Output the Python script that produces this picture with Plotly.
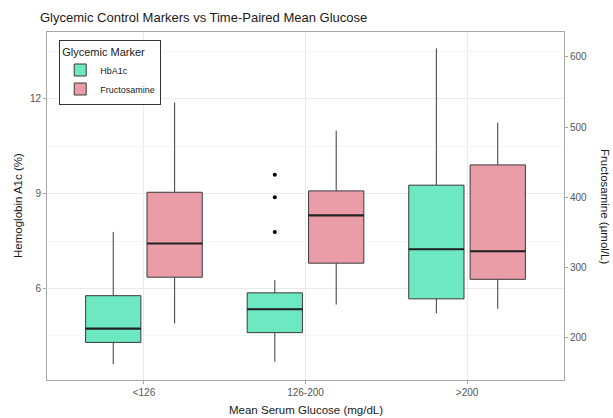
import plotly.graph_objects as go

categories = ["<126", "126-200", ">200"]

# HbA1c (%) box statistics per glucose category
hba1c_lower = [3.60, 3.68, 5.21]
hba1c_q1 = [4.29, 4.60, 5.67]
hba1c_median = [4.73, 5.34, 7.24]
hba1c_q3 = [5.77, 5.86, 9.27]
hba1c_upper = [7.79, 6.26, 13.60]
# outliers (category, value)
outlier_cat = ["126-200", "126-200", "126-200"]
outlier_val = [9.60, 8.89, 7.79]

# Fructosamine (umol/L) box statistics per glucose category
fru_lower = [220, 247, 241]
fru_q1 = [286, 306, 283]
fru_median = [334, 374, 323]
fru_q3 = [407, 409, 446]
fru_upper = [535, 495, 506]

SCALE = 45  # secondary axis: fructosamine = 45 * HbA1c
y_range = [3.10, 14.12]

green = "#6DE8C0"
pink = "#EA9DA7"
edge = "#3a3a3a"
font = "Liberation Sans, Arial, sans-serif"

fig = go.Figure()

fig.add_trace(go.Box(
    name="HbA1c", x=categories,
    q1=hba1c_q1, median=hba1c_median, q3=hba1c_q3,
    lowerfence=hba1c_lower, upperfence=hba1c_upper,
    boxpoints=False, fillcolor=green,
    line=dict(color=edge, width=1), whiskerwidth=0,
    offsetgroup="A", alignmentgroup="g", yaxis="y",
))
fig.add_trace(go.Box(
    name="Fructosamine", x=categories,
    q1=fru_q1, median=fru_median, q3=fru_q3,
    lowerfence=fru_lower, upperfence=fru_upper,
    boxpoints=False, fillcolor=pink,
    line=dict(color=edge, width=1), whiskerwidth=0,
    offsetgroup="B", alignmentgroup="g", yaxis="y2",
))
# thicker median lines (ggplot style)
fig.add_trace(go.Box(
    x=categories, q1=hba1c_median, median=hba1c_median, q3=hba1c_median,
    lowerfence=hba1c_median, upperfence=hba1c_median, boxpoints=False,
    fillcolor="rgba(0,0,0,0)", line=dict(color="#222222", width=2.2), whiskerwidth=0,
    offsetgroup="A", alignmentgroup="g", yaxis="y", showlegend=False, hoverinfo="skip",
))
fig.add_trace(go.Box(
    x=categories, q1=fru_median, median=fru_median, q3=fru_median,
    lowerfence=fru_median, upperfence=fru_median, boxpoints=False,
    fillcolor="rgba(0,0,0,0)", line=dict(color="#222222", width=2.2), whiskerwidth=0,
    offsetgroup="B", alignmentgroup="g", yaxis="y2", showlegend=False, hoverinfo="skip",
))
# outlier points
fig.add_trace(go.Box(
    x=outlier_cat, y=outlier_val, boxpoints="all", jitter=0, pointpos=0,
    fillcolor="rgba(0,0,0,0)", line=dict(color="rgba(0,0,0,0)", width=0), whiskerwidth=0,
    marker=dict(color="black", size=4),
    offsetgroup="A", alignmentgroup="g", yaxis="y", showlegend=False, hoverinfo="skip",
))

grid = "#EBEBEB"
tickc = "#555555"
border = "#A8A8A8"

fig.update_layout(
    template="none",
    width=613, height=418,
    margin=dict(l=47, r=49, t=32, b=38, pad=0),
    paper_bgcolor="white", plot_bgcolor="white",
    font=dict(family=font, color="#1a1a1a"),
    boxmode="group", boxgap=0.24, boxgroupgap=0.1,
    title=dict(text="Glycemic Control Markers vs Time-Paired Mean Glucose",
               x=40 / 613, xanchor="left", xref="container",
               y=1 - 17 / 418, yanchor="middle", yref="container",
               font=dict(size=13, color="#1a1a1a", family=font)),
    xaxis=dict(
        type="category", categoryorder="array", categoryarray=categories,
        range=[-0.6, 2.6], showgrid=True, gridcolor=grid, gridwidth=1,
        showline=True, linecolor=border, linewidth=1, mirror=True,
        ticks="outside", ticklen=3, tickcolor=border, automargin=False,
        tickfont=dict(size=10, color=tickc, family=font), zeroline=False,
    ),
    yaxis=dict(
        range=y_range, tickvals=[6, 9, 12], showgrid=True, gridcolor=grid, gridwidth=1,
        minor=dict(tickvals=[4.5, 7.5, 10.5, 13.5], showgrid=True, gridcolor="#F5F5F5", gridwidth=0.8),
        showline=True, linecolor=border, linewidth=1, mirror=True,
        ticks="outside", ticklen=3, tickcolor=border, automargin=False,
        tickfont=dict(size=10, color=tickc, family=font), zeroline=False,
    ),
    yaxis2=dict(
        overlaying="y", side="right",
        range=[y_range[0] * SCALE, y_range[1] * SCALE],
        tickvals=[200, 300, 400, 500, 600], showgrid=False, zeroline=False,
        ticks="outside", ticklen=3, tickcolor=border, automargin=False,
        tickfont=dict(size=10, color=tickc, family=font),
    ),
    legend=dict(
        x=(59 - 47) / 517, y=(380 - 40) / 348, xanchor="left", yanchor="top",
        bordercolor="#333333", borderwidth=1.2, bgcolor="white",
        title=dict(text="Glycemic Marker", font=dict(size=11, color="#1a1a1a", family=font)),
        font=dict(size=9, color="#1a1a1a", family=font),
        itemwidth=30, tracegroupgap=2,
    ),
    annotations=[
        dict(text="Hemoglobin A1c (%)", xref="paper", yref="paper", x=-(47 - 18) / 517, y=0.5,
             xanchor="center", yanchor="middle", textangle=-90, showarrow=False,
             font=dict(size=11.5, color="#1a1a1a", family=font)),
        dict(text="Fructosamine (µmol/L)", xref="paper", yref="paper", x=(605 - 47) / 517, y=0.5,
             xanchor="center", yanchor="middle", textangle=90, showarrow=False,
             font=dict(size=11.5, color="#1a1a1a", family=font)),
        dict(text="Mean Serum Glucose (mg/dL)", xref="paper", yref="paper", x=0.5, y=-0.085,
             xanchor="center", yanchor="middle", showarrow=False,
             font=dict(size=11.5, color="#1a1a1a", family=font)),
    ],
)

fig.write_html("out.html", config={"displayModeBar": False},
               post_script="document.body.style.margin='0px';document.body.style.overflow='hidden';")
